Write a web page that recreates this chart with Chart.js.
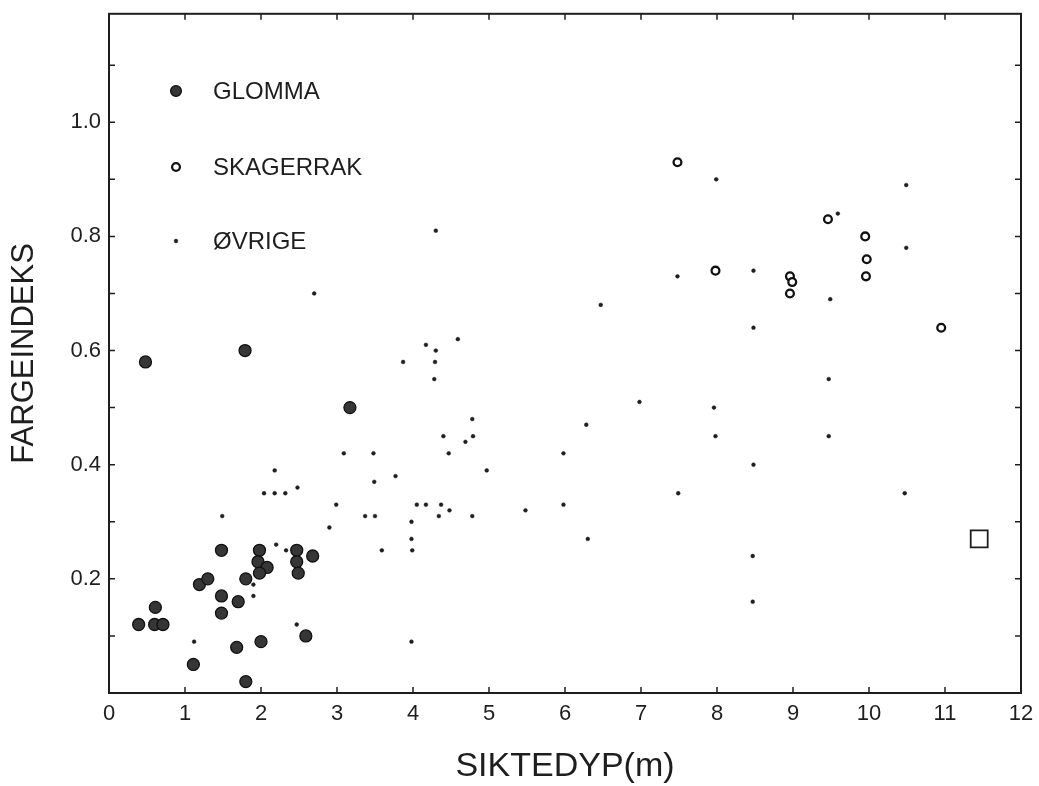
<!DOCTYPE html>
<html>
<head>
<meta charset="utf-8">
<script src="https://cdn.jsdelivr.net/npm/chart.js@4/dist/chart.umd.min.js"></script>
<style>
  html, body { margin: 0; padding: 0; background: #ffffff; }
  #wrap { width: 1039px; height: 786px; }
</style>
</head>
<body>
<div id="wrap"><canvas id="c" width="1039" height="786"></canvas></div>
<script>
// ---------------- data ----------------
const xTickValues = [0, 1, 2, 3, 4, 5, 6, 7, 8, 9, 10, 11, 12];
const xTickLabels = ['0', '1', '2', '3', '4', '5', '6', '7', '8', '9', '10', '11', '12'];
const yTickValues = [0.2, 0.4, 0.6, 0.8, 1.0];
const yTickLabels = ['0.2', '0.4', '0.6', '0.8', '1.0'];
const xMinorTicks = [1, 2, 3, 4, 5, 6, 7, 8, 9, 10, 11];
const yMinorTicks = [0.1, 0.2, 0.3, 0.4, 0.5, 0.6, 0.7, 0.8, 0.9, 1.0, 1.1];

const seriesNames = ['GLOMMA', 'SKAGERRAK', 'ØVRIGE'];

const glommaX = [0.48, 1.79, 3.17, 1.48, 1.98, 1.19, 1.30, 1.80, 1.96, 2.08, 1.98, 2.47, 2.47, 2.49,
                 2.68, 1.48, 1.70, 1.48, 0.61, 0.39, 0.60, 0.71, 1.68, 2.00, 2.59, 1.11, 1.80];
const glommaY = [0.58, 0.60, 0.50, 0.25, 0.25, 0.19, 0.20, 0.20, 0.23, 0.22, 0.21, 0.25, 0.23, 0.21,
                 0.24, 0.17, 0.16, 0.14, 0.15, 0.12, 0.12, 0.12, 0.08, 0.09, 0.10, 0.05, 0.02];

const skagerrakX = [7.48, 7.98, 9.46, 9.95, 9.97, 9.96, 8.96, 8.99, 8.96, 10.95];
const skagerrakY = [0.93, 0.74, 0.83, 0.80, 0.76, 0.73, 0.73, 0.72, 0.70, 0.64];

const ovrigeX = [4.17, 4.30, 3.87, 4.29, 4.28, 4.40, 3.09, 3.48, 2.18, 3.77, 3.49, 2.04, 2.18, 2.32,
                 2.48, 2.99, 4.05, 4.17, 4.37, 1.49, 3.37, 3.50, 2.90, 4.34, 3.98, 3.98, 3.99, 2.20,
                 2.33, 3.59, 1.90, 1.90, 2.47, 1.12, 3.98, 4.30, 2.70, 4.59, 4.78, 4.79, 4.69, 4.47,
                 4.97, 4.48, 4.78, 5.48, 5.98, 5.98, 6.28, 6.30, 6.47, 6.98, 7.49, 7.48, 7.99, 7.96,
                 7.98, 8.48, 8.48, 8.48, 8.47, 8.47, 9.59, 9.49, 9.47, 9.47, 10.49, 10.49, 10.47];
const ovrigeY = [0.61, 0.60, 0.58, 0.58, 0.55, 0.45, 0.42, 0.42, 0.39, 0.38, 0.37, 0.35, 0.35, 0.35,
                 0.36, 0.33, 0.33, 0.33, 0.33, 0.31, 0.31, 0.31, 0.29, 0.31, 0.30, 0.27, 0.25, 0.26,
                 0.25, 0.25, 0.19, 0.17, 0.12, 0.09, 0.09, 0.81, 0.70, 0.62, 0.48, 0.45, 0.44, 0.42,
                 0.39, 0.32, 0.31, 0.32, 0.33, 0.42, 0.47, 0.27, 0.68, 0.51, 0.35, 0.73, 0.90, 0.50,
                 0.45, 0.74, 0.64, 0.40, 0.24, 0.16, 0.84, 0.69, 0.55, 0.45, 0.89, 0.78, 0.35];

const squareX = [11.45];
const squareY = [0.27];

// ---------------- helpers ----------------
const FONT = '"Liberation Sans", Arial, Helvetica, sans-serif';
const INK = '#1e1e1e';
const pts = (xs, ys) => xs.map((x, i) => ({ x: x, y: ys[i] }));

const glommaStyle = { pointStyle: 'circle', radius: 6.0, backgroundColor: '#363636', borderColor: '#111111', borderWidth: 1.3 };
const skagStyle   = { pointStyle: 'circle', radius: 3.9, backgroundColor: '#ffffff', borderColor: '#111111', borderWidth: 2.3 };
const ovrStyle    = { pointStyle: 'circle', radius: 1.9, backgroundColor: '#1e1e1e', borderColor: '#1e1e1e', borderWidth: 0.5 };
const sqStyle     = { pointStyle: 'rect',   radius: 12,  backgroundColor: '#ffffff', borderColor: '#1e1e1e', borderWidth: 1.8 };

function ds(label, data, st) {
  return {
    label: label, data: data,
    pointStyle: st.pointStyle, pointRadius: st.radius, pointHoverRadius: st.radius,
    backgroundColor: st.backgroundColor, borderColor: st.borderColor, borderWidth: st.borderWidth,
    pointBackgroundColor: st.backgroundColor, pointBorderColor: st.borderColor, pointBorderWidth: st.borderWidth
  };
}

// frame + inward tick marks on all four sides
const framePlugin = {
  id: 'frame',
  afterDatasetsDraw(chart) {
    const { ctx, chartArea: a, scales: { x, y } } = chart;
    ctx.save();
    ctx.strokeStyle = INK;
    ctx.lineWidth = 2;
    ctx.strokeRect(a.left, a.top, a.right - a.left, a.bottom - a.top);
    ctx.lineWidth = 1.5;
    const tl = 6;
    ctx.beginPath();
    xMinorTicks.forEach(v => {
      const px = x.getPixelForValue(v);
      ctx.moveTo(px, a.bottom); ctx.lineTo(px, a.bottom - tl);
      ctx.moveTo(px, a.top); ctx.lineTo(px, a.top + tl);
    });
    yMinorTicks.forEach(v => {
      const py = y.getPixelForValue(v);
      ctx.moveTo(a.left, py); ctx.lineTo(a.left + tl, py);
      ctx.moveTo(a.right, py); ctx.lineTo(a.right - tl, py);
    });
    ctx.stroke();
    ctx.restore();
  }
};

// legend drawn inside the plot area, top-left
const legendPlugin = {
  id: 'insideLegend',
  afterDraw(chart) {
    const { ctx } = chart;
    const rows = [
      { style: glommaStyle, y: 91, r: 5.4 },
      { style: skagStyle, y: 167, r: skagStyle.radius },
      { style: ovrStyle, y: 241, r: ovrStyle.radius }
    ];
    ctx.save();
    rows.forEach((row, i) => {
      const st = row.style;
      ctx.fillStyle = st.backgroundColor;
      ctx.strokeStyle = st.borderColor;
      ctx.lineWidth = st.borderWidth;
      Chart.helpers.drawPoint(ctx, { pointStyle: st.pointStyle, radius: row.r, borderWidth: st.borderWidth }, 176, row.y);
      ctx.fillStyle = INK;
      ctx.font = '24px ' + FONT;
      ctx.textBaseline = 'middle';
      ctx.textAlign = 'left';
      ctx.fillText(seriesNames[i], 213, row.y + 1);
    });
    ctx.restore();
  }
};

new Chart(document.getElementById('c').getContext('2d'), {
  type: 'scatter',
  data: {
    datasets: [
      ds(seriesNames[0], pts(glommaX, glommaY), glommaStyle),
      ds(seriesNames[1], pts(skagerrakX, skagerrakY), skagStyle),
      ds(seriesNames[2], pts(ovrigeX, ovrigeY), ovrStyle),
      ds('□', pts(squareX, squareY), sqStyle)
    ]
  },
  options: {
    responsive: false,
    animation: false,
    devicePixelRatio: 1,
    layout: { padding: { top: 13, right: 18, left: 0, bottom: 0 } },
    plugins: { legend: { display: false }, tooltip: { enabled: false } },
    scales: {
      x: {
        type: 'linear', min: 0, max: 12,
        afterBuildTicks: s => { s.ticks = xTickValues.map(v => ({ value: v })); },
        afterFit: s => { s.height = 93; s.paddingLeft = 0; s.paddingRight = 0; },
        grid: { display: false, drawTicks: false },
        border: { display: false },
        ticks: {
          padding: 8, autoSkip: false, maxRotation: 0, minRotation: 0,
          color: INK, font: { family: FONT, size: 22 },
          callback: (v) => xTickLabels[xTickValues.indexOf(v)]
        },
        title: { display: true, text: 'SIKTEDYP(m)', color: INK, font: { family: FONT, size: 34 }, padding: { top: 0, bottom: -1 } }
      },
      y: {
        type: 'linear', min: 0, max: 1.19,
        afterBuildTicks: s => { s.ticks = yTickValues.map(v => ({ value: v })); },
        afterFit: s => { s.width = 109; s.paddingTop = 0; s.paddingBottom = 0; },
        grid: { display: false, drawTicks: false },
        border: { display: false },
        ticks: {
          padding: 8, color: INK, font: { family: FONT, size: 22 },
          callback: (v) => yTickLabels[yTickValues.indexOf(v)]
        },
        title: { display: true, text: 'FARGEINDEKS', color: INK, font: { family: FONT, size: 31 }, padding: { top: 6, bottom: 0 } }
      }
    }
  },
  plugins: [framePlugin, legendPlugin]
});
</script>
</body>
</html>
